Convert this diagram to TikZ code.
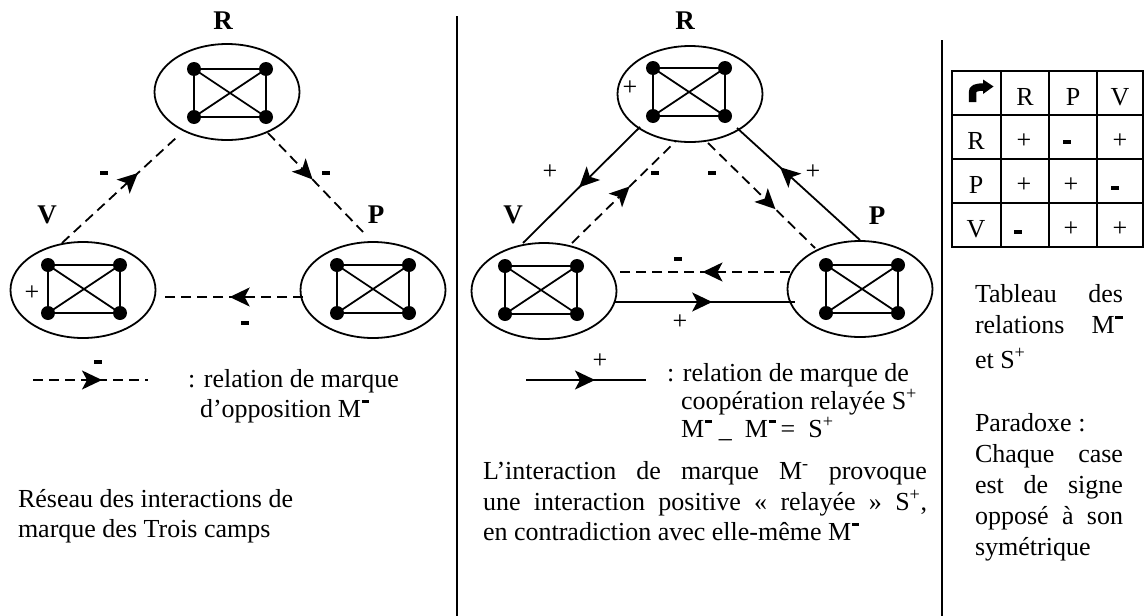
\documentclass[tikz,border=0pt]{standalone}
\usepackage{fontspec}
\setmainfont{Liberation Serif}
\usetikzlibrary{arrows.meta,decorations.markings,calc,shapes.geometric}
\newcommand\minusbar{\rule{8pt}{3.5pt}}
\newcommand\Mbar{M\kern0.5pt\rule[0.55em]{0.3em}{0.11em}}
\tikzset{
  every node/.style={inner sep=0pt, outer sep=0pt},
  camp/.style={draw, ellipse, line width=1.8pt, minimum width=145pt, minimum height=96pt},
  lbl/.style={font=\fontsize{27}{32}\selectfont\bfseries},
  txt/.style={font=\fontsize{26}{32}\selectfont, anchor=base west},
  sgn/.style={font=\fontsize{26}{32}\selectfont},
  dsh/.style={line width=1.8pt, dash pattern=on 10pt off 6pt},
  sol/.style={line width=1.8pt},
  tbl/.style={line width=2.2pt},
  midarrow/.style={postaction={decorate}, decoration={markings,
     mark=at position #1 with {\arrow{Stealth[length=20pt,width=19pt,inset=5pt]}}}},
  kgraph/.pic={
    \draw[line width=1.8pt] (-36,-24) rectangle (36,24) (-36,-24) -- (36,24) (36,-24) -- (-36,24);
    \foreach \p in {(-36,-24),(36,-24),(-36,24),(36,24)} \fill \p circle (7pt);
  }
}
\begin{document}
\begin{tikzpicture}[x=1pt,y=-1pt]
\useasboundingbox (0,0) rectangle (1144,616);
% separators
\draw[sol] (457,16) -- (457,616);
\draw[sol] (942,40) -- (942,616);

% ---------- left panel ----------
\node[camp] (R1) at (227,92) {};
\node[camp] (V1) at (83,290) {};
\node[camp] (P1) at (373,290) {};
\pic (g1) at (230,93) {kgraph};
\pic (g2) at (84,289) {kgraph};
\pic (g3) at (373,289) {kgraph};
\node[lbl] (R1l) at (223,21) {R};
\node[lbl] (V1l) at (47,215) {V};
\node[lbl] (P1l) at (376,215) {P};
\node[sgn] (V1p) at (32,293) {+};
\draw[dsh, midarrow=0.66] ($(V1)+(-21,-47)$) -- ($(R1)+(-50,45)$);
\draw[dsh, midarrow=0.47] ($(R1)+(41,41)$) -- ($(P1)+(-10,-58)$);
\draw[dsh, midarrow=0.52] ($(P1)+(-70,7)$) -- ($(V1)+(79,7)$);
\node (m1) at (104,173) {\minusbar};
\node (m2) at (326,173) {\minusbar};
\node (m3) at (245,323) {\minusbar};
\coordinate (la) at (33,380);
\coordinate (lb) at (148,380);
\draw[dsh, midarrow=0.6] (la) -- (lb);
\node (m4) at (98,362) {\minusbar};
\node[txt] (t1) at (188,387) {: relation de marque};
\node[txt] (t2) at (200,417) {d’opposition \Mbar};
\node[txt] (t3) at (18,507) {Réseau des interactions de};
\node[txt] (t4) at (18,537) {marque des Trois camps};

% ---------- middle panel ----------
\node[camp] (R2) at (690,94) {};
\node[camp] (V2) at (544,291) {};
\node[camp] (P2) at (860,289) {};
\pic (g4) at (689,92) {kgraph};
\pic (g5) at (541,290) {kgraph};
\pic (g6) at (862,289) {kgraph};
\node[lbl] (R2l) at (685,21) {R};
\node[lbl] (V2l) at (513,215) {V};
\node[lbl] (P2l) at (877,216) {P};
\node[sgn] (R2p) at (630,88) {+};
\draw[sol, midarrow=0.52] ($(R2)+(-50,33)$) -- ($(V2)+(-21,-48)$);
\draw[dsh, midarrow=0.56] ($(V2)+(28,-48)$) -- ($(R2)+(-15,48)$);
\draw[dsh, midarrow=0.63] ($(R2)+(18,49)$) -- ($(P2)+(-45,-41)$);
\draw[sol, midarrow=0.65] ($(P2)+(0,-49)$) -- ($(R2)+(47,34)$);
\draw[dsh, midarrow=0.50] ($(P2)+(-70,-17)$) -- ($(V2)+(71,-19)$);
\draw[sol, midarrow=0.54] ($(V2)+(71,11)$) -- ($(P2)+(-65,13)$);
\node[sgn] (p1) at (550,172) {+};
\node (m5) at (655,173) {\minusbar};
\node (m6) at (712,173) {\minusbar};
\node[sgn] (p2) at (813,172) {+};
\node (m7) at (678,259) {\minusbar};
\node[sgn] (p3) at (680,322) {+};
\coordinate (lc) at (526,380);
\coordinate (ld) at (646,380);
\draw[sol, midarrow=0.575] (lc) -- (ld);
\node[sgn] (p4) at (600,361) {+};
\node[txt] (t5) at (667,381) {: relation de marque de};
\node[txt] (t6) at (681,409) {coopération relayée S\textsuperscript{+}};
\node[txt] (t7) at (681,437) {\Mbar\ \_\ \ \Mbar\,= \ S\textsuperscript{+}};
\node[txt] (t8) at (483,479) {\makebox[444pt][s]{L’interaction de marque M\textsuperscript{-} provoque}};
\node[txt] (t9) at (483,510) {\makebox[444pt][s]{une interaction positive «~relayée~» S\textsuperscript{+},}};
\node[txt] (t10) at (483,540) {en contradiction avec elle-même \Mbar};

% ---------- right panel ----------
\draw[tbl] (952,71) rectangle (1143,247);
\draw[tbl] (1001,71) -- (1001,247) (1049,71) -- (1049,247) (1097,71) -- (1097,247);
\draw[tbl] (952,115) -- (1143,115) (952,159) -- (1143,159) (952,203) -- (1143,203);
\draw[line width=7.5pt] (972.5,102) -- (972.5,93) .. controls (972.5,88.5) and (975,87) .. (985,87);
\fill (983,79.5) -- (993.5,86.5) -- (983,94) -- cycle;
\node[sgn] (hR) at (1025,97) {R};
\node[sgn] (hP) at (1073,97) {P};
\node[sgn] (hV) at (1120,97) {V};
\node[sgn] (rR) at (976,141) {R};
\node[sgn] (rP) at (976,185) {P};
\node[sgn] (rV) at (976,229) {V};
\node[sgn] (c11) at (1024,141) {+};
\node (c12) at (1067,142) {\minusbar};
\node[sgn] (c13) at (1120,141) {+};
\node[sgn] (c21) at (1024,185) {+};
\node[sgn] (c22) at (1071,185) {+};
\node (c23) at (1115,188) {\minusbar};
\node (c31) at (1018,232) {\minusbar};
\node[sgn] (c32) at (1071,229) {+};
\node[sgn] (c33) at (1120,229) {+};
\node[txt] (t11) at (975,302) {\makebox[148pt][s]{Tableau des}};
\node[txt] (t12) at (975,333) {\makebox[148pt][s]{relations \Mbar}};
\node[txt] (t13) at (975,368) {et S\textsuperscript{+}};
\node[txt] (t14) at (975,431) {Paradoxe :};
\node[txt] (t15) at (975,462) {\makebox[148pt][s]{Chaque case}};
\node[txt] (t16) at (975,493) {\makebox[148pt][s]{est de signe}};
\node[txt] (t17) at (975,524) {\makebox[148pt][s]{opposé à son}};
\node[txt] (t18) at (975,555) {symétrique};
\end{tikzpicture}
\end{document}
